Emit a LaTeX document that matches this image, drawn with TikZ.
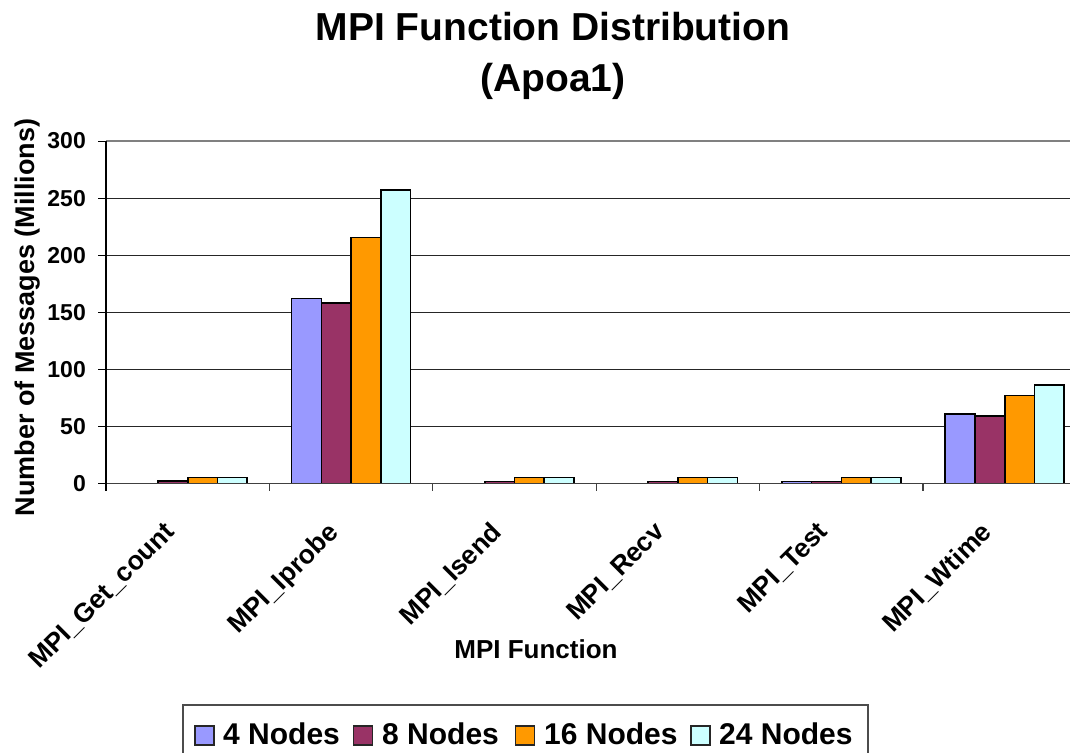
\documentclass[tikz,border=0pt]{standalone}
\usepackage{fontspec}
\setmainfont{Liberation Sans}
\definecolor{cfour}{HTML}{9999FF}
\definecolor{ceight}{HTML}{993366}
\definecolor{csixteen}{HTML}{FF9900}
\definecolor{ctwentyfour}{HTML}{CCFFFF}
\begin{document}
\begin{tikzpicture}[x=1pt,y=-1pt,
  gridline/.style={draw=black!85,line width=0.9},
  axisline/.style={draw=black,line width=1.1},
  bar/.style={draw=black,line width=1.6},
  ticklabel/.style={anchor=east,inner sep=0pt,font=\fontsize{23}{27}\selectfont\bfseries},
  catlabel/.style={rotate=45,anchor=north east,inner sep=0pt,font=\fontsize{26.5}{30}\selectfont\bfseries},
  axistitle/.style={font=\fontsize{26}{30}\selectfont\bfseries},
  titlefont/.style={anchor=base,font=\fontsize{39}{46}\selectfont\bfseries},
  legsq/.style={draw=black!85,line width=1.1,minimum size=19pt,inner sep=0pt},
  legtext/.style={anchor=base west,inner sep=0pt,font=\fontsize{30}{34}\selectfont\bfseries}]
\clip (0,0) rectangle (1070,752);
\fill[white] (0,0) rectangle (1070,752);
% title
\node[titlefont] (title1) at (553,41) {MPI Function Distribution};
\node[titlefont] (title2) at (553,91) {(Apoa1)};
% gridlines
\foreach \v in {50,100,150,200,250}
  \draw[gridline] (106,{483.3-\v*1.1407}) -- (1070,{483.3-\v*1.1407});
\draw[draw=black!50,line width=1.5] (106,141) -- (1070,141);
% bars
\foreach \k/\a/\b/\c/\d in {0/0/1.8/5/5, 1/162/158/215.5/257, 2/0/1.5/5/5, 3/0/1.5/5/5, 4/1.5/1.5/5/5, 5/60.7/59/77/86}{
  \foreach \j/\val/\col in {0/\a/cfour, 1/\b/ceight, 2/\c/csixteen, 3/\d/ctwentyfour}{
    \ifdim\val pt>0.5pt
      \draw[bar,fill=\col] ({106+\k*163.4+22.28+\j*29.71},483.3) rectangle ++(29.71,{-\val*1.1407});
    \fi
  }
}
% axes
\draw[axisline,draw=black!75] (106,483.3) -- (1070,483.3);
\draw[axisline] (106,141) -- (106,491.3);
\foreach \k in {1,...,5}
  \draw[axisline,draw=black!75] ({106+\k*163.4},483.3) -- ++(0,8);
\foreach \v in {0,50,100,150,200,250,300}{
  \draw[axisline] (98,{483.3-\v*1.1407}) -- (106,{483.3-\v*1.1407});
  \node[ticklabel] (yt\v) at (86,{483.3-\v*1.1407}) {\v};
}
% category labels
\foreach \k/\t in {0/MPI\_Get\_count, 1/MPI\_Iprobe, 2/MPI\_Isend, 3/MPI\_Recv, 4/MPI\_Test, 5/MPI\_Wtime}
  \node[catlabel] (cat\k) at ({106+(\k+0.5)*163.4-25},520) {\t};
% axis titles
\node[axistitle,anchor=base] (xtitle) at (536,658) {MPI Function};
\node[axistitle,rotate=90,anchor=base,font=\fontsize{27}{31}\selectfont\bfseries] (ytitle) at (34,317.5) {Number of Messages (Millions)};
% legend
\draw[draw=black!70,line width=1.1] (183,705) rectangle (868,770);
\node[legsq,fill=cfour] (sq4) at (204.5,735.5) {};
\node[legtext] (lg4) at (223,744) {4 Nodes};
\node[legsq,fill=ceight] (sq8) at (363,735.5) {};
\node[legtext] (lg8) at (382,744) {8 Nodes};
\node[legsq,fill=csixteen] (sq16) at (525,735.5) {};
\node[legtext] (lg16) at (544,744) {16 Nodes};
\node[legsq,fill=ctwentyfour] (sq24) at (700.5,735.5) {};
\node[legtext] (lg24) at (719,744) {24 Nodes};
\end{tikzpicture}
\end{document}
